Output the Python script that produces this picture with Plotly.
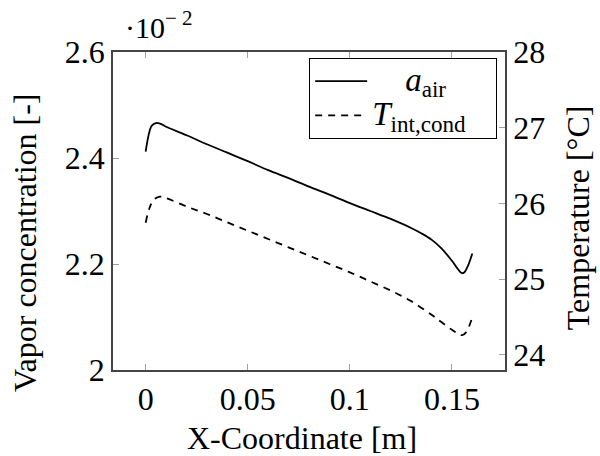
import plotly.graph_objects as go

# x-coordinate [m]
x_air = [0.0, 0.001, 0.002, 0.003, 0.005, 0.007, 0.01, 0.02, 0.03, 0.04, 0.05, 0.06, 0.07,
         0.08, 0.09, 0.10, 0.11, 0.12, 0.13, 0.135, 0.14, 0.145, 0.15, 0.153, 0.1547, 0.156, 0.158, 0.16]
# vapor concentration a_air [x 1e-2]
a_air = [2.412, 2.435, 2.452, 2.461, 2.466, 2.465, 2.459, 2.443, 2.426, 2.410, 2.394, 2.377, 2.362,
         2.346, 2.331, 2.315, 2.300, 2.285, 2.268, 2.258, 2.246, 2.229, 2.206, 2.190, 2.183, 2.184, 2.198, 2.220]

x_t = [0.0, 0.002, 0.004, 0.007, 0.01, 0.02, 0.03, 0.04, 0.05, 0.06, 0.07, 0.08, 0.09, 0.10,
       0.11, 0.12, 0.13, 0.14, 0.145, 0.15, 0.153, 0.155, 0.157, 0.16]
# interface condensation temperature [°C]
t_int = [25.745, 25.95, 26.05, 26.09, 26.07, 25.96, 25.86, 25.75, 25.64, 25.53, 25.42, 25.31, 25.20, 25.09,
         24.97, 24.85, 24.71, 24.53, 24.43, 24.33, 24.28, 24.26, 24.30, 24.50]

x_ticks = [0, 0.05, 0.1, 0.15]
x_ticktext = ["0", "0.05", "0.1", "0.15"]
y1_ticks = [2.0, 2.2, 2.4, 2.6]
y1_ticktext = ["2", "2.2", "2.4", "2.6"]
y2_ticks = [24, 25, 26, 27, 28]
y2_ticktext = ["24", "25", "26", "27", "28"]

FONT = "Liberation Serif, Times New Roman, serif"
FS = 32
LFS = 33
AX = "#444444"
TK = "#a0a0a0"

def big(s):
    return '<span style="font-size:%dpx">%s</span>' % (LFS, s)

fig = go.Figure()
fig.add_trace(go.Scatter(x=x_air, y=a_air, mode="lines",
                         name=big("&nbsp;&nbsp;&nbsp;&nbsp;<i>a</i><sub>air</sub>"),
                         line=dict(color="black", width=1.8, shape="spline", smoothing=1.0)))
fig.add_trace(go.Scatter(x=x_t, y=t_int, mode="lines",
                         name=big("<i>T</i><sub>int,cond</sub>&nbsp;&nbsp;&nbsp;"), yaxis="y2",
                         line=dict(color="black", width=1.8, dash="7px,6px", shape="spline", smoothing=1.0)))

fig.update_layout(
    width=600, height=456,
    margin=dict(l=113, r=95, t=52, b=86),
    paper_bgcolor="white", plot_bgcolor="white",
    font=dict(family=FONT, size=FS, color="black"),
    showlegend=True,
    legend=dict(x=0.98, y=0.981, xanchor="right", yanchor="top",
                bgcolor="white", bordercolor="black", borderwidth=1,
                font=dict(family=FONT, size=24), itemwidth=52,
                tracegroupgap=0, traceorder="normal"),
    xaxis=dict(range=[-0.016, 0.176], tickvals=x_ticks, ticktext=x_ticktext,
               showgrid=False, zeroline=False, showline=True, linecolor=AX, linewidth=1.5,
               mirror="ticks", ticks="inside", ticklen=6, tickcolor=TK, tickwidth=1,
               tickfont=dict(family=FONT, size=FS)),
    yaxis=dict(range=[2.0, 2.6], tickvals=y1_ticks, ticktext=y1_ticktext,
               showgrid=False, zeroline=False, showline=True, linecolor=AX, linewidth=1.5,
               ticks="inside", ticklen=6, tickcolor=TK, tickwidth=1,
               tickfont=dict(family=FONT, size=FS)),
    yaxis2=dict(range=[23.8, 28.0], tickvals=y2_ticks, ticktext=y2_ticktext,
                overlaying="y", side="right",
                showgrid=False, zeroline=False, showline=True, linecolor=AX, linewidth=1.5,
                ticks="inside", ticklen=6, tickcolor=TK, tickwidth=1,
                tickfont=dict(family=FONT, size=FS)),
    annotations=[
        dict(text="X-Coordinate [m]", x=0.481, y=-0.214, xref="paper", yref="paper",
             xanchor="center", yanchor="middle", showarrow=False, font=dict(family=FONT, size=FS)),
        dict(text="Vapor concentration [-]", x=-0.2245, y=0.4025, xref="paper", yref="paper",
             xanchor="center", yanchor="middle", textangle=-90, showarrow=False,
             font=dict(family=FONT, size=FS)),
        dict(text="Temperature [°C]", x=1.186, y=0.48, xref="paper", yref="paper",
             xanchor="center", yanchor="middle", textangle=-90, showarrow=False,
             font=dict(family=FONT, size=FS)),
        dict(text="·10<sup>− 2</sup>", x=0.025, y=1.02, xref="paper", yref="paper",
             xanchor="left", yanchor="bottom", showarrow=False, font=dict(family=FONT, size=30)),
    ],
)

fig.write_html("out.html")
